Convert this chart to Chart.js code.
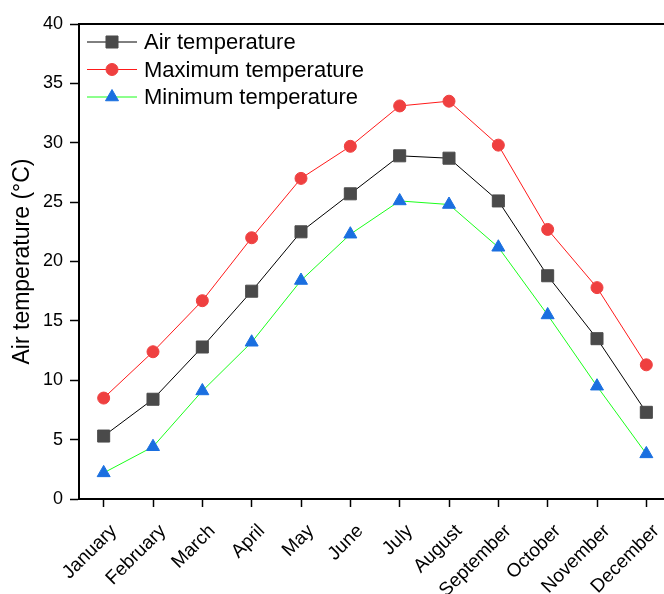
<!DOCTYPE html>
<html>
<head>
<meta charset="utf-8">
<script src="https://cdn.jsdelivr.net/npm/chart.js@4/dist/chart.umd.min.js"></script>
<style>
    html, body { margin: 0; padding: 0; background: #fff; overflow: hidden; }
    #wrap { width: 690px; height: 594px; }
</style>
</head>
<body>
<div id="wrap"><canvas id="temperature-canvas" width="690" height="594"></canvas></div>
<script>
const months = [`January`, `February`, `March`, `April`, `May`, `June`,
    `July`, `August`, `September`, `October`, `November`, `December`];

const airTemp = [5.3, 8.4, 12.8, 17.5, 22.5, 25.7, 28.9, 28.7, 25.1, 18.8, 13.5, 7.3];
const maxTemp = [8.5, 12.4, 16.7, 22.0, 27.0, 29.7, 33.1, 33.5, 29.8, 22.7, 17.8, 11.3];
const minTemp = [2.2, 4.4, 9.1, 13.2, 18.4, 22.3, 25.1, 24.8, 21.2, 15.5, 9.5, 3.8];

const yTicks = [0, 5, 10, 15, 20, 25, 30, 35, 40];

const FONT = `'Liberation Sans', Arial, sans-serif`;

// legend drawn inside the plot, top-left corner
const innerLegend = {
    id: `innerLegend`,
    afterDraw(chart) {
        const ctx = chart.ctx;
        const area = chart.chartArea;
        ctx.save();
        chart.data.datasets.forEach((ds, i) => {
            const y = area.top + 18 + i * 27.5;
            const x0 = area.left + 8;
            ctx.strokeStyle = ds.borderColor;
            ctx.lineWidth = 1;
            ctx.beginPath();
            ctx.moveTo(x0, y);
            ctx.lineTo(x0 + 50, y);
            ctx.stroke();
            ctx.fillStyle = ds.pointBackgroundColor;
            ctx.strokeStyle = ds.pointBorderColor;
            Chart.helpers.drawPoint(ctx, {
                pointStyle: ds.pointStyle,
                radius: ds.pointRadius,
                borderWidth: 1,
                rotation: 0
            }, x0 + 25, y);
            ctx.fillStyle = `#000`;
            ctx.font = `22px ${FONT}`;
            ctx.textBaseline = `middle`;
            ctx.textAlign = `left`;
            ctx.fillText(ds.label, x0 + 57, y + 1);
        });
        ctx.restore();
    }
};

// top frame line of the plot box
const topFrame = {
    id: `topFrame`,
    afterDraw(chart) {
        const ctx = chart.ctx;
        const area = chart.chartArea;
        ctx.save();
        ctx.strokeStyle = `#000`;
        ctx.lineWidth = 2;
        ctx.beginPath();
        ctx.moveTo(area.left - 1, area.top);
        ctx.lineTo(area.right, area.top);
        ctx.stroke();
        ctx.restore();
    }
};

function drawChart() {
    const ctx = document.querySelector(`#temperature-canvas`).getContext(`2d`);
    new Chart(ctx, {
        type: `line`,
        data: {
            labels: months,
            datasets: [
                {
                    label: `Air temperature`,
                    data: airTemp,
                    borderColor: `#000000`,
                    borderWidth: 1,
                    pointStyle: `rect`,
                    pointRadius: 8.5,
                    pointBackgroundColor: `#4a4a4a`,
                    pointBorderColor: `#4a4a4a`,
                    pointBorderWidth: 1
                },
                {
                    label: `Maximum temperature`,
                    data: maxTemp,
                    borderColor: `#ff1a1a`,
                    borderWidth: 1,
                    pointStyle: `circle`,
                    pointRadius: 6,
                    pointBackgroundColor: `#ef4040`,
                    pointBorderColor: `#ef4040`,
                    pointBorderWidth: 1
                },
                {
                    label: `Minimum temperature`,
                    data: minTemp,
                    borderColor: `#1aff1a`,
                    borderWidth: 1,
                    pointStyle: `triangle`,
                    pointRadius: 7.5,
                    pointBackgroundColor: `#1a6fe0`,
                    pointBorderColor: `#1a6fe0`,
                    pointBorderWidth: 1
                }
            ]
        },
        options: {
            responsive: false,
            animation: false,
            layout: {
                padding: { top: 24, right: 19, bottom: 0, left: 0 }
            },
            plugins: {
                legend: { display: false },
                tooltip: { enabled: false }
            },
            scales: {
                x: {
                    offset: true,
                    afterFit: scale => { scale.height = 95; },
                    border: { display: true, color: `#000`, width: 2 },
                    grid: {
                        drawOnChartArea: false,
                        drawTicks: true,
                        tickLength: 8,
                        tickWidth: 1.5,
                        tickColor: `#000`
                    },
                    ticks: {
                        color: `#000`,
                        font: { family: FONT, size: 19 },
                        maxRotation: 45,
                        minRotation: 45,
                        autoSkip: false,
                        padding: 13,
                        labelOffset: 10
                    }
                },
                y: {
                    min: 0,
                    max: 40,
                    afterFit: scale => { scale.width = 79; },
                    afterBuildTicks: scale => {
                        scale.ticks = yTicks.map(v => ({ value: v }));
                    },
                    border: { display: true, color: `#000`, width: 2 },
                    grid: {
                        drawOnChartArea: false,
                        drawTicks: true,
                        tickLength: 9,
                        tickWidth: 1.5,
                        tickColor: `#000`
                    },
                    ticks: {
                        color: `#000`,
                        font: { family: FONT, size: 18 },
                        padding: 7
                    },
                    title: {
                        display: true,
                        text: `Air temperature (°C)`,
                        color: `#000`,
                        font: { family: FONT, size: 23 },
                        padding: { top: 9, bottom: 0 }
                    }
                }
            }
        },
        plugins: [innerLegend, topFrame]
    });
}

drawChart();
</script>
</body>
</html>
